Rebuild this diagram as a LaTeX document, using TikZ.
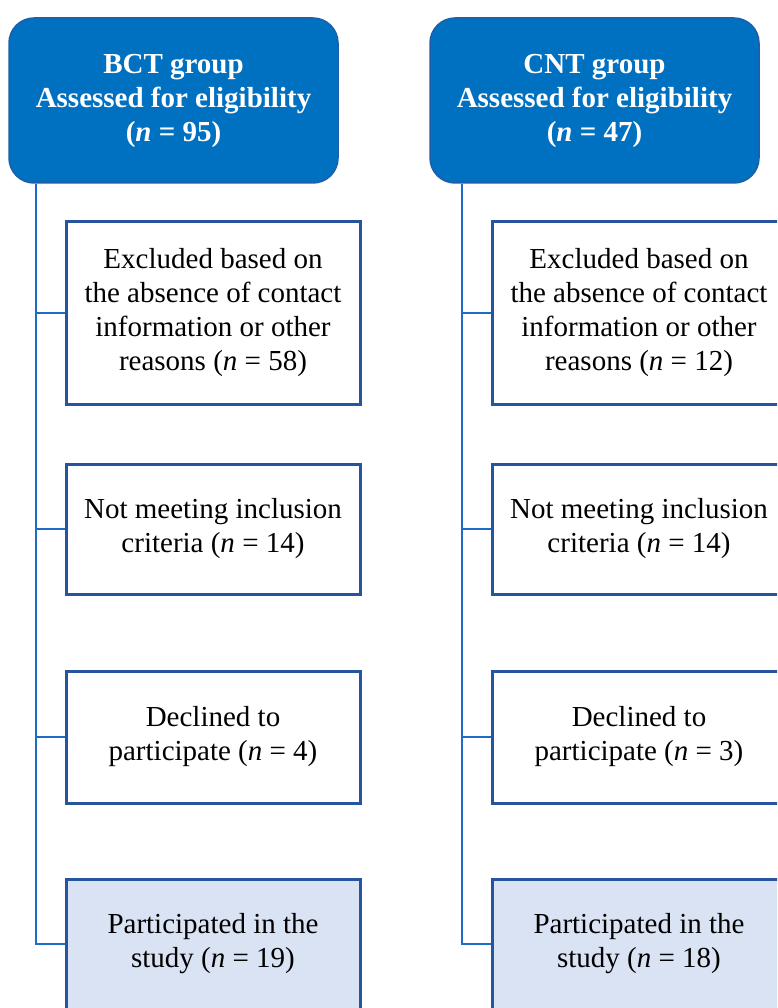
\documentclass[tikz,border=0pt]{standalone}
\usepackage{fontspec}
\setmainfont{Liberation Serif}
\usetikzlibrary{positioning}

\definecolor{headblue}{RGB}{0,112,192}
\definecolor{headline}{RGB}{30,95,172}
\definecolor{boxline}{RGB}{38,84,158}
\definecolor{connblue}{RGB}{28,108,200}
\definecolor{partfill}{RGB}{218,227,243}

\begin{document}
\begin{tikzpicture}[x=1pt,y=-1pt,
  head/.style={draw=headline,line width=1.5pt,fill=headblue,rounded corners=25pt,
    minimum width=329pt,minimum height=165pt,inner sep=0pt,align=center,
    text=white,font=\fontsize{29}{34}\selectfont\bfseries},
  excl/.style={draw=boxline,line width=3pt,fill=white,minimum width=294pt,
    inner sep=0pt,align=center,font=\fontsize{29}{34}\selectfont},
  part/.style={excl,fill=partfill},
  conn/.style={draw=connblue,line width=2pt}]

\useasboundingbox (0,0) rectangle (777,1008);
\clip (0,0) rectangle (777,1008);

% group headers
\node[head] (bct) at (173.5,100.5) {BCT group\\Assessed for eligibility\\(\textit{n} = 95)};
\node[head] (cnt) at (594.5,100.5) {CNT group\\Assessed for eligibility\\(\textit{n} = 47)};

% BCT column
\node[excl,minimum height=182pt] (b1) at (213,313) {Excluded based on\\the absence of contact\\information  or other\\reasons (\textit{n} = 58)};
\node[excl,minimum height=130pt] (b2) at (213,529) {Not meeting inclusion\\criteria (\textit{n} = 14)};
\node[excl,minimum height=132pt] (b3) at (213,737) {Declined to\\participate (\textit{n} = 4)};
\node[part,minimum height=130pt] (b4) at (213,944) {Participated in the\\study (\textit{n} = 19)};

% CNT column
\node[excl,minimum height=182pt] (c1) at (639,313) {Excluded based on\\the absence of contact\\information  or other\\reasons (\textit{n} = 12)};
\node[excl,minimum height=130pt] (c2) at (639,529) {Not meeting inclusion\\criteria (\textit{n} = 14)};
\node[excl,minimum height=132pt] (c3) at (639,737) {Declined to\\participate (\textit{n} = 3)};
\node[part,minimum height=130pt] (c4) at (639,944) {Participated in the\\study (\textit{n} = 18)};

\coordinate (lsp) at (36,0);
\coordinate (rsp) at (462,0);

\draw[conn] (bct.south -| lsp) |- (b4.west);
\draw[conn] (b1.west -| lsp) -- (b1.west);
\draw[conn] (b2.west -| lsp) -- (b2.west);
\draw[conn] (b3.west -| lsp) -- (b3.west);

\draw[conn] (cnt.south -| rsp) |- (c4.west);
\draw[conn] (c1.west -| rsp) -- (c1.west);
\draw[conn] (c2.west -| rsp) -- (c2.west);
\draw[conn] (c3.west -| rsp) -- (c3.west);

\end{tikzpicture}
\end{document}
